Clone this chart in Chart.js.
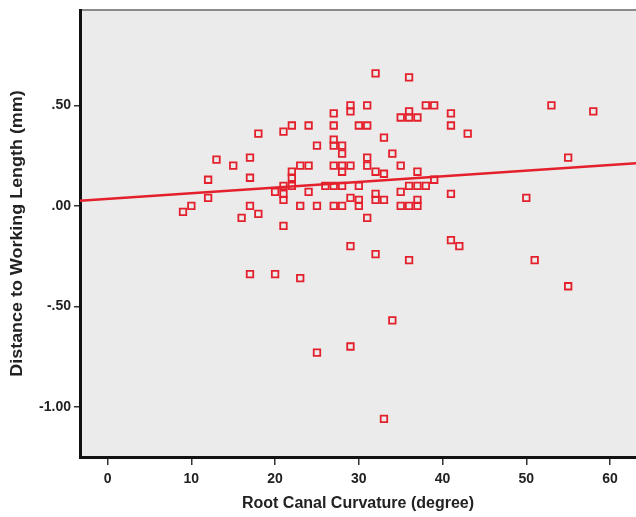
<!DOCTYPE html>
<html>
<head>
<meta charset="utf-8">
<script src="https://cdn.jsdelivr.net/npm/chart.js"></script>
<style>
  html, body { margin: 0; padding: 0; background: #fff; }
  #wrap { width: 636px; height: 517px; }
</style>
</head>
<body>
<div id="wrap"><canvas id="myChart" width="636" height="517"></canvas></div>
<script>
// Root canal curvature (degree) vs distance to working length (mm)
const curvature = [9,10,12,12,13,15,16,17,17,17,17,18,18,20,20,21,21,21,21,21,22,22,22,22,23,23,23,24,24,24,25,25,25,26,27,27,27,27,27,27,27,28,28,28,28,28,28,29,29,29,29,29,29,30,30,30,30,31,31,31,31,31,32,32,32,32,32,33,33,33,33,34,34,35,35,35,35,36,36,36,36,36,36,37,37,37,37,37,38,38,39,39,41,41,41,41,42,43,50,51,53,55,55,58];
const distance = [-0.03,0.00,0.04,0.13,0.23,0.20,-0.06,0.24,0.14,0.00,-0.34,0.36,-0.04,0.07,-0.34,0.37,0.10,0.06,0.03,-0.10,0.40,0.17,0.14,0.10,0.20,0.00,-0.36,0.40,0.20,0.07,0.30,0.00,-0.73,0.10,0.46,0.40,0.33,0.30,0.20,0.10,0.00,0.30,0.26,0.20,0.17,0.10,0.00,0.50,0.47,0.20,0.04,-0.20,-0.70,0.40,0.10,0.03,0.00,0.50,0.40,0.24,0.20,-0.06,0.66,0.17,0.06,0.03,-0.24,0.34,0.16,0.03,-1.06,0.26,-0.57,0.44,0.20,0.07,0.00,0.64,0.47,0.44,0.10,0.00,-0.27,0.44,0.17,0.10,0.03,0.00,0.50,0.10,0.50,0.13,0.46,0.40,0.06,-0.17,-0.20,0.36,0.04,-0.27,0.50,0.24,-0.40,0.47];

// fit line end points
const fitX = [-3.3, 63.1];
const fitY = [0.025, 0.212];

const xTicks = [0,10,20,30,40,50,60];
const yTicks = [-1.0,-0.5,0.0,0.5];
const yTickLabels = ['-1.00','-.50','.00','.50'];
const yTitle = 'Distance to Working Length (mm)';

const red = 'rgb(228,32,44)';
const family = "'Liberation Sans', Arial, sans-serif";
const font = {family: family, weight: 'bold'};

const bgPlugin = {
  id: 'bg',
  beforeDraw(chart) {
    const {ctx, chartArea: a} = chart;
    ctx.save();
    ctx.fillStyle = '#ffffff';
    ctx.fillRect(0, 0, chart.width, chart.height);
    ctx.fillStyle = '#ebebeb';
    ctx.fillRect(a.left, a.top, a.right - a.left, a.bottom - a.top);
    ctx.strokeStyle = '#8a8a8a';
    ctx.lineWidth = 2;
    ctx.beginPath();
    ctx.moveTo(a.left, a.top);
    ctx.lineTo(a.right, a.top);
    ctx.stroke();
    ctx.restore();
  },
  // y title is a little stretched along its length in the original
  afterDraw(chart) {
    const {ctx, chartArea: a} = chart;
    ctx.save();
    ctx.translate(18, (a.top + a.bottom) / 2);
    ctx.rotate(-Math.PI / 2);
    ctx.scale(1.12, 1);
    ctx.font = 'bold 16px ' + family;
    ctx.fillStyle = '#222';
    ctx.textAlign = 'center';
    ctx.textBaseline = 'middle';
    ctx.fillText(yTitle, 0, 0);
    ctx.restore();
  }
};

const points = curvature.map((x, i) => ({x: x, y: distance[i]}));
const fit = fitX.map((x, i) => ({x: x, y: fitY[i]}));

new Chart(document.getElementById('myChart'), {
  type: 'scatter',
  data: {
    datasets: [{
      data: fit,
      showLine: true,
      borderColor: red,
      borderWidth: 2.5,
      pointRadius: 0,
      order: 0
    }, {
      data: points,
      pointStyle: 'rect',
      pointRadius: 4.6,
      borderWidth: 1.8,
      borderColor: red,
      backgroundColor: 'rgba(0,0,0,0)',
      order: 1
    }]
  },
  options: {
    responsive: false,
    animation: false,
    layout: {autoPadding: false, padding: {top: 10, right: 0, left: 0, bottom: 0}},
    plugins: {legend: {display: false}, tooltip: {enabled: false}},
    scales: {
      x: {
        type: 'linear',
        min: -3.3,
        max: 63.1,
        afterBuildTicks: s => { s.ticks = xTicks.map(v => ({value: v})); },
        afterFit: s => { s.height = 60; s.paddingRight = 0; s.paddingLeft = 0; },
        grid: {drawOnChartArea: false, drawTicks: true, tickLength: 8, color: '#333', lineWidth: 1.5},
        border: {display: true, color: '#111', width: 3},
        ticks: {padding: 6, color: '#222', font: {...font, size: 14}},
        title: {display: true, text: 'Root Canal Curvature (degree)', color: '#222',
                font: {...font, size: 16}, padding: {top: 0, bottom: 4}}
      },
      y: {
        type: 'linear',
        min: -1.25,
        max: 0.975,
        afterBuildTicks: s => { s.ticks = yTicks.map(v => ({value: v})); },
        afterFit: s => { s.width = 80; s.paddingTop = 0; s.paddingBottom = 0; },
        grid: {drawOnChartArea: false, drawTicks: true, tickLength: 6, color: '#333', lineWidth: 1.5},
        border: {display: true, color: '#111', width: 3},
        ticks: {padding: 3, color: '#222', font: {...font, size: 14},
                callback: (v) => yTickLabels[yTicks.indexOf(v)]}
      }
    }
  },
  plugins: [bgPlugin]
});
</script>
</body>
</html>
